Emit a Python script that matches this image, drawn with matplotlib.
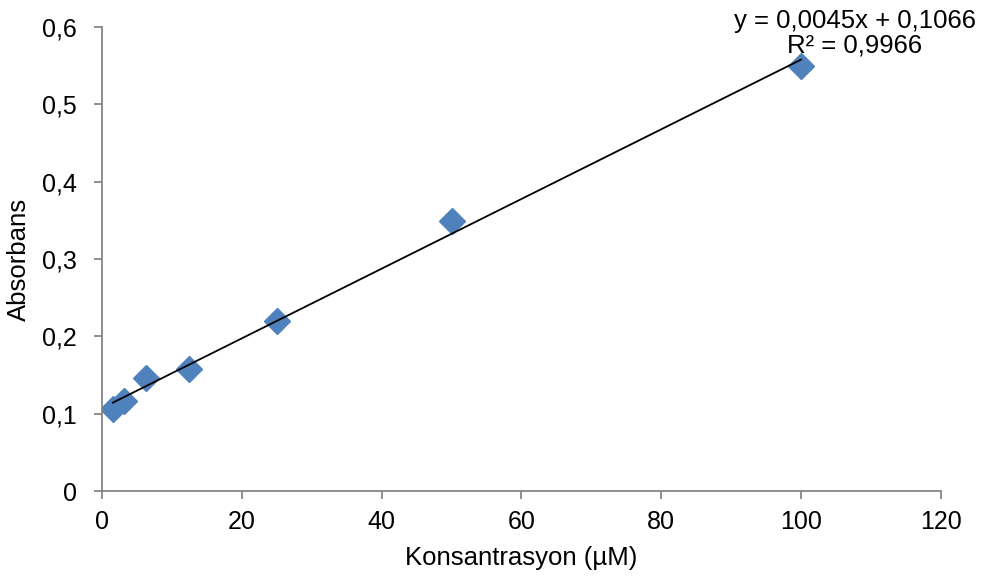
import numpy as np
import matplotlib
matplotlib.use("Agg")
from matplotlib import pyplot as plt
from matplotlib.ticker import FuncFormatter

# concentration (uM) and absorbance
konsantrasyon = [1.5625, 3.125, 6.25, 12.5, 25, 50, 100]
absorbans = [0.106, 0.116, 0.146, 0.158, 0.220, 0.349, 0.550]
denklem = "y = 0,0045x + 0,1066\nR² = 0,9966"

plt.rcParams["font.family"] = ["Liberation Sans", "DejaVu Sans"]

fig = plt.figure(figsize=(9.88, 5.86), dpi=100)
ax = fig.add_axes([0.1032, 0.1621, 0.8492, 0.7918])

ax.plot(konsantrasyon, absorbans, linestyle="none", marker="D",
        markersize=13, color="#4F81BD", zorder=2)

# linear trendline over the data range
k = np.polyfit(konsantrasyon, absorbans, 1)
xs = np.array([min(konsantrasyon), max(konsantrasyon)])
ax.plot(xs, np.polyval(k, xs), color="black", linewidth=1.3, zorder=3)

ax.text(107.7, 0.592, denklem, ha="center", va="center",
        fontsize=18.5, linespacing=1.0, clip_on=False)

ax.set_xlim(0, 120)
ax.set_ylim(0, 0.6)
ax.set_xticks(range(0, 121, 20))
ax.set_yticks(np.arange(0, 0.61, 0.1))
ax.yaxis.set_major_formatter(FuncFormatter(
    lambda v, p: "0" if abs(v) < 1e-9 else f"{v:.1f}".replace(".", ",")))

for s in ["top", "right"]:
    ax.spines[s].set_visible(False)
for s in ["left", "bottom"]:
    ax.spines[s].set_color("#868686")
    ax.spines[s].set_linewidth(1.3)
ax.tick_params(direction="out", length=6, width=1.3, color="#868686",
               labelsize=18, pad=8)
ax.tick_params(axis="y", pad=12)

ax.set_xlabel("Konsantrasyon (µM)", fontsize=18.5, labelpad=8)
ax.set_ylabel("Absorbans", fontsize=18.5, labelpad=8)

fig.savefig("out.png", dpi=100)
